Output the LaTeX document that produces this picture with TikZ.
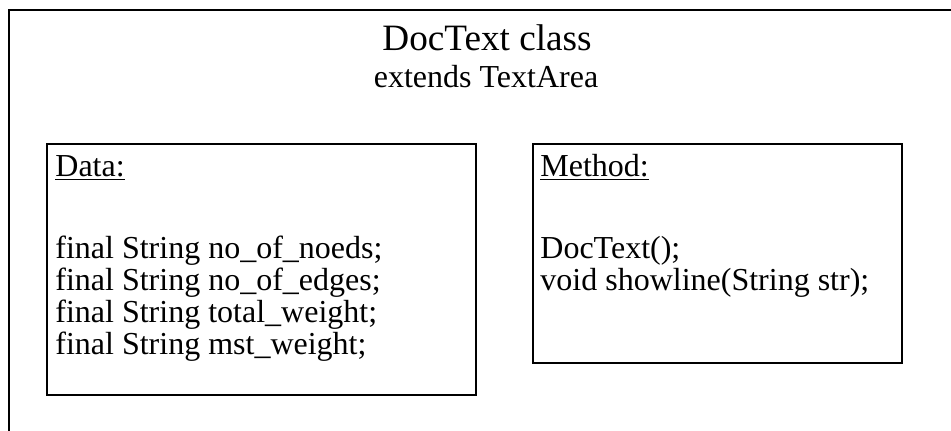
\documentclass[tikz,border=0pt]{standalone}
\usepackage{fontspec}
\setmainfont{Liberation Serif}
\begin{document}
\begin{tikzpicture}[x=0.5pt,y=-0.5pt,
  frame/.style={line width=1pt},
  boxstyle/.style={draw,line width=0.8pt,inner sep=0pt,anchor=north west},
  body/.style={anchor=base west,inner sep=0pt,font=\fontsize{16}{19}\selectfont},
  title/.style={anchor=base,inner sep=0pt,font=\fontsize{18.6}{22}\selectfont},
  subtitle/.style={anchor=base,inner sep=0pt,font=\fontsize{16}{19}\selectfont}]
\useasboundingbox (0,0) rectangle (951,430);
\clip (0,0) rectangle (951,430);
\coordinate (fbl) at (9,440);
\coordinate (ftl) at (9,10);
\coordinate (ftr) at (960,10);
\draw[frame] (fbl) -- (ftl) -- (ftr);
\node[title] (t1) at (487,50) {DocText class};
\node[subtitle] (t2) at (486,87) {extends TextArea};
\node[boxstyle,minimum width=214.5pt,minimum height=125.5pt] (databox) at (46,143) {};
\node[boxstyle,minimum width=184.5pt,minimum height=109.5pt] (methodbox) at (532,143) {};
\node[body] (dh) at (55,176) {\underline{Data:}};
\node[body] (d1) at (55,258) {final String no\_of\_noeds;};
\node[body] (d2) at (55,290) {final String no\_of\_edges;};
\node[body] (d3) at (55,322) {final String total\_weight;};
\node[body] (d4) at (55,354) {final String mst\_weight;};
\node[body] (mh) at (540,176) {\underline{Method:}};
\node[body] (m1) at (540,258) {DocText();};
\node[body] (m2) at (540,290) {void showline(String str);};
\end{tikzpicture}
\end{document}
